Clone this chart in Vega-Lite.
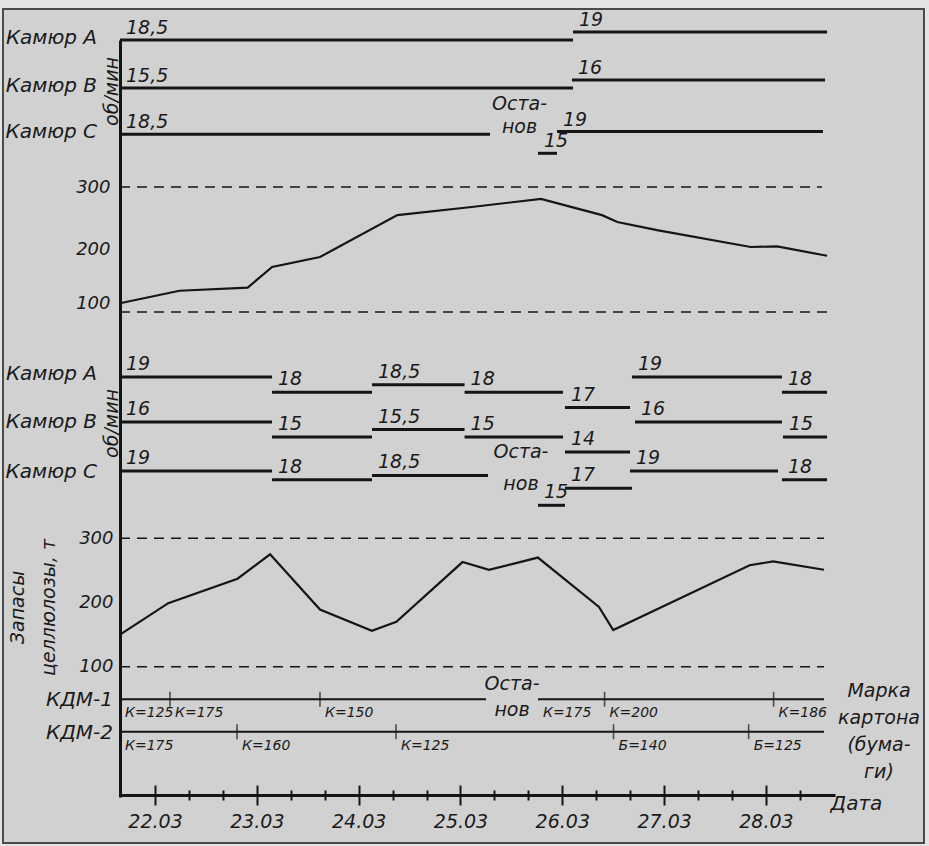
{
  "$schema": "https://vega.github.io/schema/vega-lite/v6.json",
  "width": 921,
  "height": 834,
  "autosize": {"type": "none"},
  "padding": {"left": 3, "top": 9, "right": 5, "bottom": 3},
  "background": "#e4e4e4",
  "config": {
    "view": {"stroke": "#4a4a4a", "strokeWidth": 2, "fill": "#d1d1d1"},
    "axis": {"grid": false, "labelFont": "DejaVu Sans", "titleFont": "DejaVu Sans", "labelFontStyle": "italic", "titleFontStyle": "italic", "titleFontWeight": "normal", "labelColor": "#1a1a1a", "titleColor": "#1a1a1a", "labelFontSize": 18, "titleFontSize": 18, "domainColor": "#151515", "tickColor": "#151515"},
    "text": {"font": "DejaVu Sans", "fontStyle": "italic", "color": "#1a1a1a", "fontSize": 18},
    "rule": {"color": "#151515"},
    "line": {"color": "#151515"},
    "tick": {"color": "#151515"}
  },
  "datasets": {
    "stockTop": [
      {"day": 21.656, "tonnes": 114}, {"day": 22.24, "tonnes": 134}, {"day": 22.91, "tonnes": 139},
      {"day": 23.15, "tonnes": 172}, {"day": 23.62, "tonnes": 188}, {"day": 24.38, "tonnes": 255},
      {"day": 25.11, "tonnes": 268}, {"day": 25.79, "tonnes": 281}, {"day": 26.39, "tonnes": 255},
      {"day": 26.54, "tonnes": 244}, {"day": 26.93, "tonnes": 231}, {"day": 27.85, "tonnes": 204},
      {"day": 28.11, "tonnes": 205}, {"day": 28.6, "tonnes": 190}
    ],
    "stockBottom": [
      {"day": 21.656, "tonnes": 150}, {"day": 22.13, "tonnes": 199}, {"day": 22.81, "tonnes": 237},
      {"day": 23.13, "tonnes": 275}, {"day": 23.62, "tonnes": 189}, {"day": 24.13, "tonnes": 156},
      {"day": 24.37, "tonnes": 170}, {"day": 25.02, "tonnes": 263}, {"day": 25.28, "tonnes": 251},
      {"day": 25.76, "tonnes": 270}, {"day": 26.36, "tonnes": 193}, {"day": 26.5, "tonnes": 157},
      {"day": 27.84, "tonnes": 258}, {"day": 28.07, "tonnes": 264}, {"day": 28.57, "tonnes": 251}
    ],
    "limits": [
      {"panel": "top", "tonnes": 300, "start": 21.656, "end": 28.55},
      {"panel": "top", "tonnes": 100, "start": 21.656, "end": 28.6},
      {"panel": "bottom", "tonnes": 300, "start": 21.656, "end": 28.57},
      {"panel": "bottom", "tonnes": 100, "start": 21.656, "end": 28.57}
    ],
    "speeds": [
      {"panel": "top", "machine": "A", "speed": 18.5, "start": 21.656, "end": 26.105},
      {"panel": "top", "machine": "A", "speed": 19, "start": 26.105, "end": 28.6},
      {"panel": "top", "machine": "B", "speed": 15.5, "start": 21.656, "end": 26.105},
      {"panel": "top", "machine": "B", "speed": 16, "start": 26.095, "end": 28.58},
      {"panel": "top", "machine": "C", "speed": 18.5, "start": 21.656, "end": 25.29},
      {"panel": "top", "machine": "C", "speed": 15, "start": 25.761, "end": 25.948},
      {"panel": "top", "machine": "C", "speed": 19, "start": 25.948, "end": 28.56},
      {"panel": "bottom", "machine": "A", "speed": 19, "start": 21.656, "end": 23.149},
      {"panel": "bottom", "machine": "A", "speed": 18, "start": 23.149, "end": 24.131},
      {"panel": "bottom", "machine": "A", "speed": 18.5, "start": 24.131, "end": 25.04},
      {"panel": "bottom", "machine": "A", "speed": 18, "start": 25.04, "end": 26.007},
      {"panel": "bottom", "machine": "A", "speed": 17, "start": 26.026, "end": 26.665},
      {"panel": "bottom", "machine": "A", "speed": 19, "start": 26.684, "end": 28.157},
      {"panel": "bottom", "machine": "A", "speed": 18, "start": 28.157, "end": 28.6},
      {"panel": "bottom", "machine": "B", "speed": 16, "start": 21.656, "end": 23.149},
      {"panel": "bottom", "machine": "B", "speed": 15, "start": 23.149, "end": 24.131},
      {"panel": "bottom", "machine": "B", "speed": 15.5, "start": 24.131, "end": 25.04},
      {"panel": "bottom", "machine": "B", "speed": 15, "start": 25.04, "end": 26.007},
      {"panel": "bottom", "machine": "B", "speed": 14, "start": 26.026, "end": 26.665},
      {"panel": "bottom", "machine": "B", "speed": 16, "start": 26.714, "end": 28.157},
      {"panel": "bottom", "machine": "B", "speed": 15, "start": 28.167, "end": 28.6},
      {"panel": "bottom", "machine": "C", "speed": 19, "start": 21.656, "end": 23.149},
      {"panel": "bottom", "machine": "C", "speed": 18, "start": 23.149, "end": 24.131},
      {"panel": "bottom", "machine": "C", "speed": 18.5, "start": 24.131, "end": 25.27},
      {"panel": "bottom", "machine": "C", "speed": 15, "start": 25.761, "end": 26.026},
      {"panel": "bottom", "machine": "C", "speed": 17, "start": 26.026, "end": 26.684},
      {"panel": "bottom", "machine": "C", "speed": 19, "start": 26.665, "end": 28.118},
      {"panel": "bottom", "machine": "C", "speed": 18, "start": 28.157, "end": 28.6}
    ],
    "kdm": [
      {"machine": "КДМ-1", "grade": "К=125", "start": 21.656, "end": 22.147},
      {"machine": "КДМ-1", "grade": "К=175", "start": 22.147, "end": 23.62},
      {"machine": "КДМ-1", "grade": "К=150", "start": 23.62, "end": 25.251},
      {"machine": "КДМ-1", "grade": "К=175", "start": 25.761, "end": 26.415, "afterStop": true},
      {"machine": "КДМ-1", "grade": "К=200", "start": 26.415, "end": 28.075},
      {"machine": "КДМ-1", "grade": "К=186", "start": 28.075, "end": 28.57},
      {"machine": "КДМ-2", "grade": "К=175", "start": 21.656, "end": 22.805},
      {"machine": "КДМ-2", "grade": "К=160", "start": 22.805, "end": 24.367},
      {"machine": "КДМ-2", "grade": "К=125", "start": 24.367, "end": 26.503},
      {"machine": "КДМ-2", "grade": "Б=140", "start": 26.503, "end": 27.83},
      {"machine": "КДМ-2", "grade": "Б=125", "start": 27.83, "end": 28.57}
    ]
  },
  "resolve": {"scale": {"y": "independent"}, "axis": {"x": "independent"}},
  "layer": [
    {
      "encoding": {"y": {"field": "tonnes", "type": "quantitative",
        "scale": {"domain": [100, 300], "range": [303, 178], "nice": false, "zero": false},
        "axis": {"orient": "left", "values": [100, 200, 300], "title": null, "offset": -117, "domain": false, "ticks": false, "labelPadding": 10,
          "labelOffset": {"condition": {"test": "datum.value === 100", "value": -9}, "value": 0}}}},
      "layer": [
        {"data": {"name": "limits"}, "transform": [{"filter": "datum.panel === 'top'"}],
         "mark": {"type": "rule", "strokeDash": [10, 7], "strokeWidth": 1.6},
         "encoding": {"x": {"field": "start", "type": "quantitative", "scale": {"domain": [21.656, 28.678], "range": [117, 832], "nice": false, "zero": false}}, "x2": {"field": "end"}}},
        {"data": {"name": "stockTop"},
         "mark": {"type": "line", "strokeWidth": 2.2},
         "encoding": {"x": {"field": "day", "type": "quantitative", "scale": {"domain": [21.656, 28.678], "range": [117, 832], "nice": false, "zero": false},
           "axis": {"orient": "bottom", "title": "Дата",
             "values": [22, 22.3333, 22.6667, 23, 23.3333, 23.6667, 24, 24.3333, 24.6667, 25, 25.3333, 25.6667, 26, 26.3333, 26.6667, 27, 27.3333, 27.6667, 28, 28.3333],
             "labelExpr": "datum.value % 1 === 0 ? format(datum.value, 'd') + '.03' : ''",
             "offset": -48, "domainWidth": 3, "tickWidth": 2,
             "tickSize": {"condition": {"test": "datum.value % 1 === 0", "value": 10}, "value": 5},
             "labelPadding": 7, "labelFontSize": 19, "labelBaseline": "top", "labelFlush": false, "labelOverlap": false,
             "titleX": 827, "titleY": 8, "titleAlign": "left", "titleBaseline": "middle", "titleFontSize": 20}}}}
      ]
    },
    {
      "encoding": {"y": {"field": "tonnes", "type": "quantitative",
        "scale": {"domain": [-102.96, 1076.2], "range": [788, 31], "nice": false, "zero": false},
        "axis": {"orient": "left", "values": [100, 200, 300], "title": ["Запасы", "целлюлозы, т"], "offset": -117, "domain": true, "domainWidth": 3, "ticks": false, "labelPadding": 7,
          "titleAngle": 270, "titleX": -103, "titleY": 598, "titleAlign": "center", "titleBaseline": "middle", "titleLineHeight": 31, "titleFontSize": 19}}},
      "layer": [
        {"data": {"name": "limits"}, "transform": [{"filter": "datum.panel === 'bottom'"}],
         "mark": {"type": "rule", "strokeDash": [10, 7], "strokeWidth": 1.6},
         "encoding": {"x": {"field": "start", "type": "quantitative", "scale": {"domain": [21.656, 28.678], "range": [117, 832], "nice": false, "zero": false}}, "x2": {"field": "end"}}},
        {"data": {"name": "stockBottom"},
         "mark": {"type": "line", "strokeWidth": 2.2},
         "encoding": {"x": {"field": "day", "type": "quantitative", "scale": {"domain": [21.656, 28.678], "range": [117, 832], "nice": false, "zero": false},
           "axis": {"orient": "top", "title": null, "offset": -786, "domain": false, "labels": false, "tickWidth": 2,
             "values": [22, 22.3333, 22.6667, 23, 23.3333, 23.6667, 24, 24.3333, 24.6667, 25, 25.3333, 25.6667, 26, 26.3333, 26.6667, 27, 27.3333, 27.6667, 28, 28.3333],
             "tickSize": {"condition": {"test": "datum.value % 1 === 0", "value": 10}, "value": 5}}}}}
      ]
    },
    {
      "data": {"name": "speeds"},
      "transform": [{"filter": "datum.panel === 'top' && datum.machine === 'A'"}],
      "encoding": {"y": {"field": "speed", "type": "quantitative", "scale": {"domain": [18.5, 19], "range": [31, 23], "nice": false, "zero": false}, "axis": null}},
      "layer": [
        {"mark": {"type": "rule", "strokeWidth": 3}, "encoding": {"x": {"field": "start", "type": "quantitative", "scale": {"domain": [21.656, 28.678], "range": [117, 832], "nice": false, "zero": false}, "axis": null}, "x2": {"field": "end"}}},
        {"transform": [{"calculate": "replace(format(datum.speed, '.1~f'), '.', ',')", "as": "label"}],
         "mark": {"type": "text", "align": "left", "baseline": "alphabetic", "dx": 6, "dy": -6, "fontSize": 19},
         "encoding": {"x": {"field": "start", "type": "quantitative", "scale": {"domain": [21.656, 28.678], "range": [117, 832], "nice": false, "zero": false}, "axis": null}, "text": {"field": "label"}}},
        {"transform": [{"filter": "datum.start < 21.7"}, {"calculate": "'Камюр ' + datum.machine", "as": "name"}],
         "mark": {"type": "text", "align": "right", "baseline": "middle", "dx": -23, "dy": -2, "fontSize": 20},
         "encoding": {"x": {"field": "start", "type": "quantitative", "scale": {"domain": [21.656, 28.678], "range": [117, 832], "nice": false, "zero": false}, "axis": null}, "text": {"field": "name"}}}
      ]
    },
    {
      "data": {"name": "speeds"},
      "transform": [{"filter": "datum.panel === 'top' && datum.machine === 'B'"}],
      "encoding": {"y": {"field": "speed", "type": "quantitative", "scale": {"domain": [15.5, 16], "range": [79, 71], "nice": false, "zero": false},
        "axis": {"orient": "left", "title": "об/мин", "offset": -117, "domain": false, "ticks": false, "labels": false, "titleAngle": 270, "titleX": -3, "titleY": 82, "titleAlign": "center", "titleBaseline": "alphabetic", "titleFontSize": 19}}},
      "layer": [
        {"mark": {"type": "rule", "strokeWidth": 3}, "encoding": {"x": {"field": "start", "type": "quantitative", "scale": {"domain": [21.656, 28.678], "range": [117, 832], "nice": false, "zero": false}, "axis": null}, "x2": {"field": "end"}}},
        {"transform": [{"calculate": "replace(format(datum.speed, '.1~f'), '.', ',')", "as": "label"}],
         "mark": {"type": "text", "align": "left", "baseline": "alphabetic", "dx": 6, "dy": -6, "fontSize": 19},
         "encoding": {"x": {"field": "start", "type": "quantitative", "scale": {"domain": [21.656, 28.678], "range": [117, 832], "nice": false, "zero": false}, "axis": null}, "text": {"field": "label"}}},
        {"transform": [{"filter": "datum.start < 21.7"}, {"calculate": "'Камюр ' + datum.machine", "as": "name"}],
         "mark": {"type": "text", "align": "right", "baseline": "middle", "dx": -23, "dy": -2, "fontSize": 20},
         "encoding": {"x": {"field": "start", "type": "quantitative", "scale": {"domain": [21.656, 28.678], "range": [117, 832], "nice": false, "zero": false}, "axis": null}, "text": {"field": "name"}}}
      ]
    },
    {
      "data": {"name": "speeds"},
      "transform": [{"filter": "datum.panel === 'top' && datum.machine === 'C'"}],
      "encoding": {"y": {"field": "speed", "type": "quantitative", "scale": {"domain": [15, 19], "range": [144.3, 122.5], "nice": false, "zero": false}, "axis": null}},
      "layer": [
        {"mark": {"type": "rule", "strokeWidth": 3}, "encoding": {"x": {"field": "start", "type": "quantitative", "scale": {"domain": [21.656, 28.678], "range": [117, 832], "nice": false, "zero": false}, "axis": null}, "x2": {"field": "end"}}},
        {"transform": [{"calculate": "replace(format(datum.speed, '.1~f'), '.', ',')", "as": "label"}],
         "mark": {"type": "text", "align": "left", "baseline": "alphabetic", "dx": 6, "dy": -6, "fontSize": 19},
         "encoding": {"x": {"field": "start", "type": "quantitative", "scale": {"domain": [21.656, 28.678], "range": [117, 832], "nice": false, "zero": false}, "axis": null}, "text": {"field": "label"}}},
        {"transform": [{"filter": "datum.start < 21.7"}, {"calculate": "'Камюр ' + datum.machine", "as": "name"}],
         "mark": {"type": "text", "align": "right", "baseline": "middle", "dx": -23, "dy": -2, "fontSize": 20},
         "encoding": {"x": {"field": "start", "type": "quantitative", "scale": {"domain": [21.656, 28.678], "range": [117, 832], "nice": false, "zero": false}, "axis": null}, "text": {"field": "name"}}},
        {"data": {"values": [{"panel": "top", "machine": "C", "speed": 15, "start": 25.58, "note": "Оста-\nнов"}]},
         "mark": {"type": "text", "align": "center", "baseline": "alphabetic", "lineBreak": "\n", "lineHeight": 23, "dy": -43, "fontSize": 19},
         "encoding": {"x": {"field": "start", "type": "quantitative", "scale": {"domain": [21.656, 28.678], "range": [117, 832], "nice": false, "zero": false}, "axis": null}, "text": {"field": "note"}}}
      ]
    },
    {
      "data": {"name": "speeds"},
      "transform": [{"filter": "datum.panel === 'bottom' && datum.machine === 'A'"}],
      "encoding": {"y": {"field": "speed", "type": "quantitative", "scale": {"domain": [17, 19], "range": [398.6, 368], "nice": false, "zero": false}, "axis": null}},
      "layer": [
        {"mark": {"type": "rule", "strokeWidth": 3}, "encoding": {"x": {"field": "start", "type": "quantitative", "scale": {"domain": [21.656, 28.678], "range": [117, 832], "nice": false, "zero": false}, "axis": null}, "x2": {"field": "end"}}},
        {"transform": [{"calculate": "replace(format(datum.speed, '.1~f'), '.', ',')", "as": "label"}],
         "mark": {"type": "text", "align": "left", "baseline": "alphabetic", "dx": 6, "dy": -7, "fontSize": 19},
         "encoding": {"x": {"field": "start", "type": "quantitative", "scale": {"domain": [21.656, 28.678], "range": [117, 832], "nice": false, "zero": false}, "axis": null}, "text": {"field": "label"}}},
        {"transform": [{"filter": "datum.start < 21.7"}, {"calculate": "'Камюр ' + datum.machine", "as": "name"}],
         "mark": {"type": "text", "align": "right", "baseline": "middle", "dx": -23, "dy": -3, "fontSize": 20},
         "encoding": {"x": {"field": "start", "type": "quantitative", "scale": {"domain": [21.656, 28.678], "range": [117, 832], "nice": false, "zero": false}, "axis": null}, "text": {"field": "name"}}}
      ]
    },
    {
      "data": {"name": "speeds"},
      "transform": [{"filter": "datum.panel === 'bottom' && datum.machine === 'B'"}],
      "encoding": {"y": {"field": "speed", "type": "quantitative", "scale": {"domain": [14, 16], "range": [443.1, 413], "nice": false, "zero": false},
        "axis": {"orient": "left", "title": "об/мин", "offset": -117, "domain": false, "ticks": false, "labels": false, "titleAngle": 270, "titleX": -3, "titleY": 414, "titleAlign": "center", "titleBaseline": "alphabetic", "titleFontSize": 19}}},
      "layer": [
        {"mark": {"type": "rule", "strokeWidth": 3}, "encoding": {"x": {"field": "start", "type": "quantitative", "scale": {"domain": [21.656, 28.678], "range": [117, 832], "nice": false, "zero": false}, "axis": null}, "x2": {"field": "end"}}},
        {"transform": [{"calculate": "replace(format(datum.speed, '.1~f'), '.', ',')", "as": "label"}],
         "mark": {"type": "text", "align": "left", "baseline": "alphabetic", "dx": 6, "dy": -7, "fontSize": 19},
         "encoding": {"x": {"field": "start", "type": "quantitative", "scale": {"domain": [21.656, 28.678], "range": [117, 832], "nice": false, "zero": false}, "axis": null}, "text": {"field": "label"}}},
        {"transform": [{"filter": "datum.start < 21.7"}, {"calculate": "'Камюр ' + datum.machine", "as": "name"}],
         "mark": {"type": "text", "align": "right", "baseline": "middle", "dx": -23, "dy": 0, "fontSize": 20},
         "encoding": {"x": {"field": "start", "type": "quantitative", "scale": {"domain": [21.656, 28.678], "range": [117, 832], "nice": false, "zero": false}, "axis": null}, "text": {"field": "name"}}}
      ]
    },
    {
      "data": {"name": "speeds"},
      "transform": [{"filter": "datum.panel === 'bottom' && datum.machine === 'C'"}],
      "encoding": {"y": {"field": "speed", "type": "quantitative", "scale": {"domain": [15, 19], "range": [496.3, 462.1], "nice": false, "zero": false}, "axis": null}},
      "layer": [
        {"mark": {"type": "rule", "strokeWidth": 3}, "encoding": {"x": {"field": "start", "type": "quantitative", "scale": {"domain": [21.656, 28.678], "range": [117, 832], "nice": false, "zero": false}, "axis": null}, "x2": {"field": "end"}}},
        {"transform": [{"calculate": "replace(format(datum.speed, '.1~f'), '.', ',')", "as": "label"}],
         "mark": {"type": "text", "align": "left", "baseline": "alphabetic", "dx": 6, "dy": -7, "fontSize": 19},
         "encoding": {"x": {"field": "start", "type": "quantitative", "scale": {"domain": [21.656, 28.678], "range": [117, 832], "nice": false, "zero": false}, "axis": null}, "text": {"field": "label"}}},
        {"transform": [{"filter": "datum.start < 21.7"}, {"calculate": "'Камюр ' + datum.machine", "as": "name"}],
         "mark": {"type": "text", "align": "right", "baseline": "middle", "dx": -23, "dy": 1, "fontSize": 20},
         "encoding": {"x": {"field": "start", "type": "quantitative", "scale": {"domain": [21.656, 28.678], "range": [117, 832], "nice": false, "zero": false}, "axis": null}, "text": {"field": "name"}}},
        {"data": {"values": [{"panel": "bottom", "machine": "C", "speed": 15, "start": 25.594, "note": "Оста-\nнов"}]},
         "mark": {"type": "text", "align": "center", "baseline": "alphabetic", "lineBreak": "\n", "lineHeight": 32, "dy": -47, "fontSize": 19},
         "encoding": {"x": {"field": "start", "type": "quantitative", "scale": {"domain": [21.656, 28.678], "range": [117, 832], "nice": false, "zero": false}, "axis": null}, "text": {"field": "note"}}}
      ]
    },
    {
      "data": {"name": "kdm"},
      "encoding": {"y": {"field": "machine", "type": "nominal", "scale": {"type": "point", "domain": ["КДМ-1", "КДМ-2"], "range": [690.3, 722.7], "padding": 0}, "axis": null}},
      "layer": [
        {"mark": {"type": "rule", "strokeWidth": 2}, "encoding": {"x": {"field": "start", "type": "quantitative", "scale": {"domain": [21.656, 28.678], "range": [117, 832], "nice": false, "zero": false}, "axis": null}, "x2": {"field": "end"}}},
        {"transform": [{"filter": "datum.start > 21.7 && !datum.afterStop"}],
         "mark": {"type": "tick", "orient": "vertical", "size": 15, "thickness": 1.6},
         "encoding": {"x": {"field": "start", "type": "quantitative", "scale": {"domain": [21.656, 28.678], "range": [117, 832], "nice": false, "zero": false}, "axis": null}}},
        {"mark": {"type": "text", "align": "left", "baseline": "middle", "dx": 5, "dy": 14, "fontSize": 14},
         "encoding": {"x": {"field": "start", "type": "quantitative", "scale": {"domain": [21.656, 28.678], "range": [117, 832], "nice": false, "zero": false}, "axis": null}, "text": {"field": "grade"}}},
        {"transform": [{"filter": "datum.start < 21.7"}],
         "mark": {"type": "text", "align": "right", "baseline": "middle", "dx": -7, "dy": 1, "fontSize": 20},
         "encoding": {"x": {"field": "start", "type": "quantitative", "scale": {"domain": [21.656, 28.678], "range": [117, 832], "nice": false, "zero": false}, "axis": null}, "text": {"field": "machine"}}},
        {"data": {"values": [{"machine": "КДМ-1", "start": 25.506, "note": "Оста-\nнов"}]},
         "mark": {"type": "text", "align": "center", "baseline": "alphabetic", "lineBreak": "\n", "lineHeight": 26, "dy": -9, "fontSize": 19},
         "encoding": {"x": {"field": "start", "type": "quantitative", "scale": {"domain": [21.656, 28.678], "range": [117, 832], "nice": false, "zero": false}, "axis": null}, "text": {"field": "note"}}},
        {"data": {"values": [{"machine": "КДМ-1", "start": 29.11, "note": "Марка\nкартона\n(бума-\nги)"}]},
         "mark": {"type": "text", "align": "center", "baseline": "alphabetic", "lineBreak": "\n", "lineHeight": 27, "dy": -2, "fontSize": 19},
         "encoding": {"x": {"field": "start", "type": "quantitative", "scale": {"domain": [21.656, 28.678], "range": [117, 832], "nice": false, "zero": false}, "axis": null}, "text": {"field": "note"}}}
      ]
    }
  ]
}
